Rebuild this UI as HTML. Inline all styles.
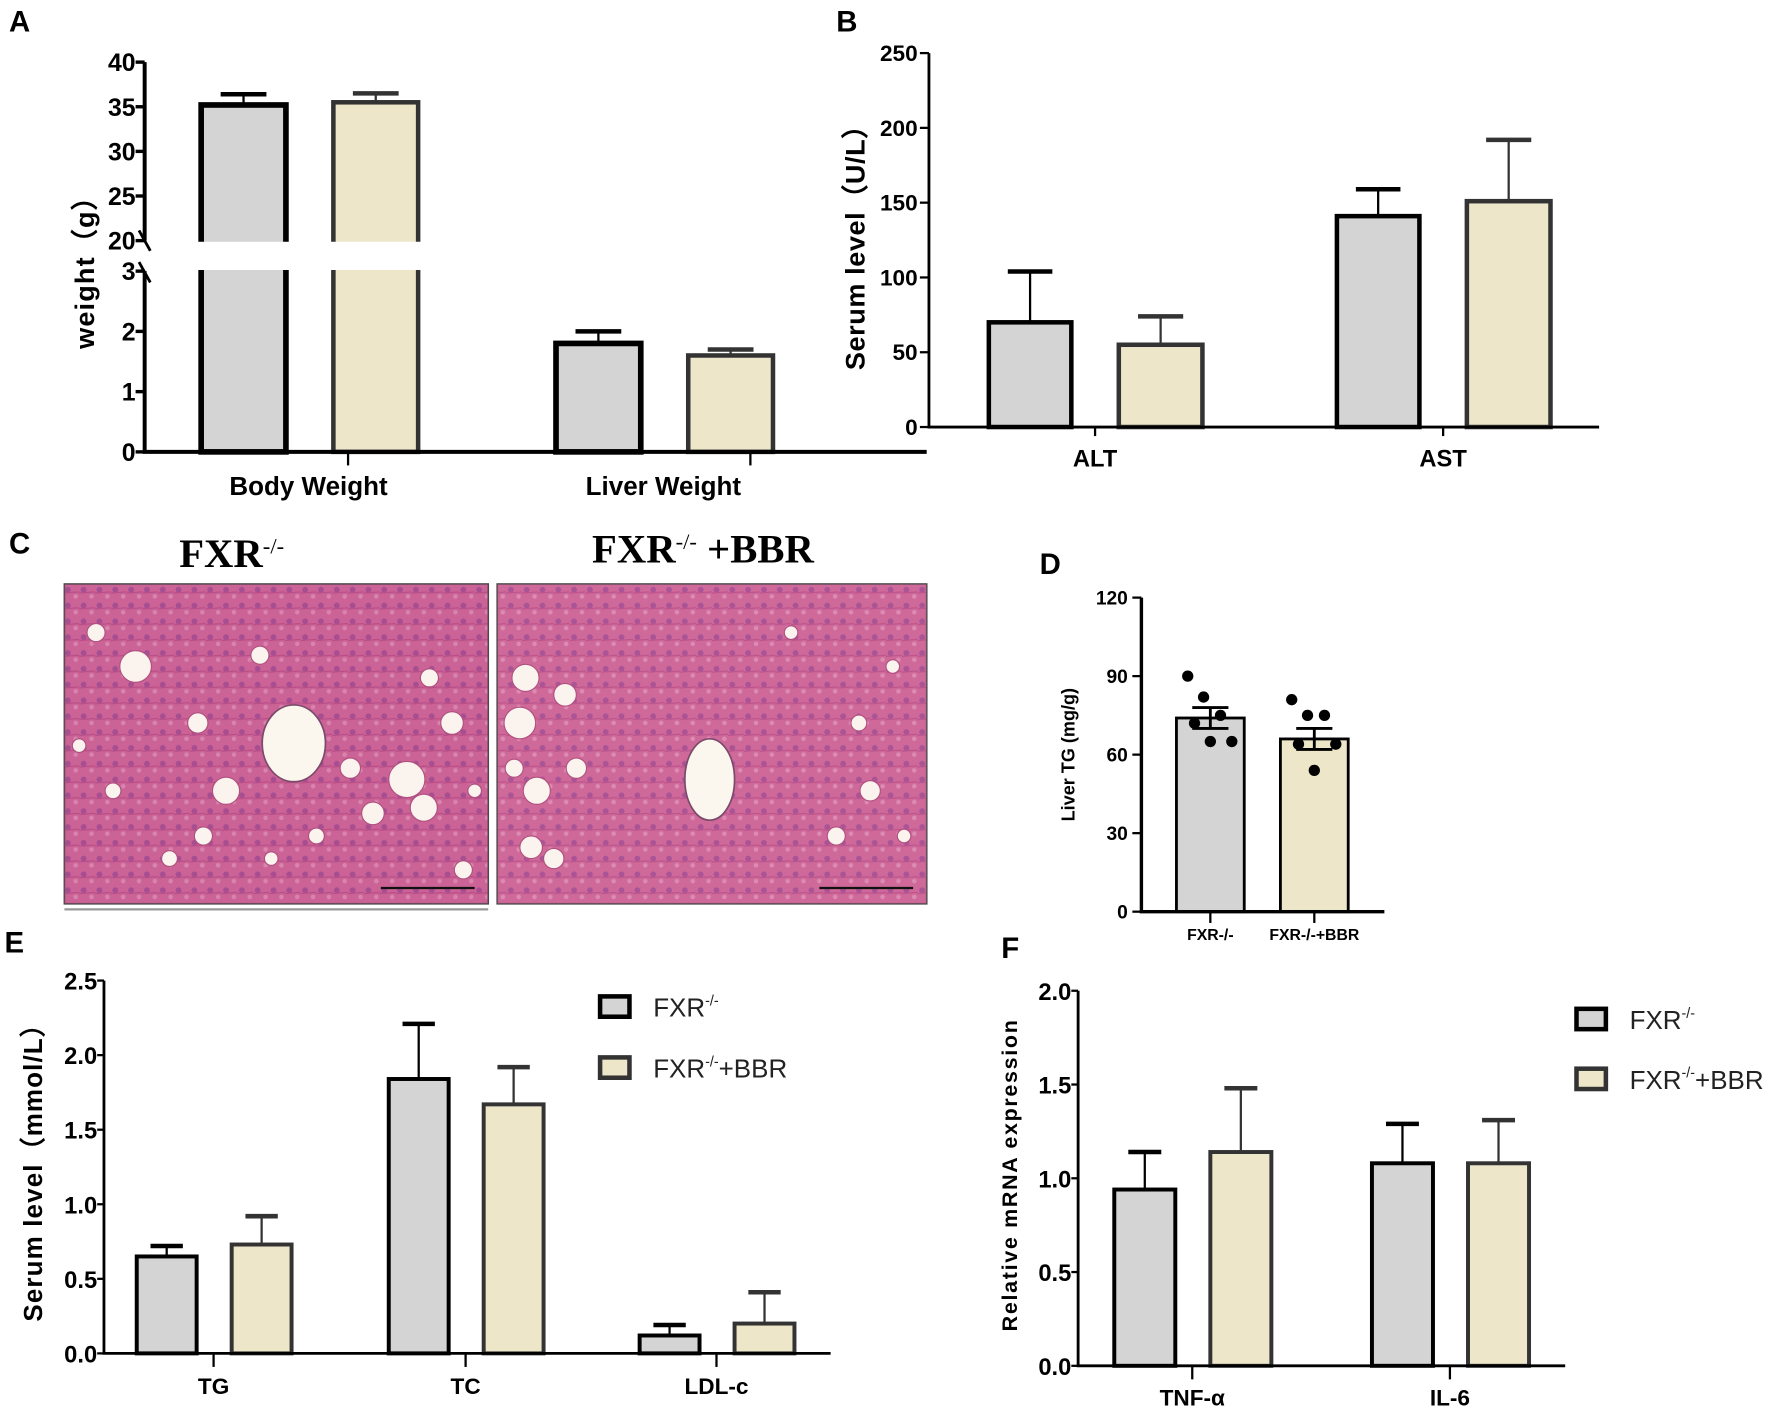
<!DOCTYPE html>
<html><head><meta charset="utf-8"><style>
html,body{margin:0;padding:0;background:#fff}
svg{display:block}
text{font-family:"Liberation Sans",Arial,sans-serif}
text.serif{font-family:"Liberation Serif","Times New Roman",serif}
</style></head><body>
<svg id="fig" xmlns="http://www.w3.org/2000/svg" width="1772" height="1411" viewBox="0 0 1568 1249" preserveAspectRatio="none">
<defs>
<pattern id="cells" width="14" height="14" patternUnits="userSpaceOnUse">
<rect width="14" height="14" fill="#cf6a9a"/>
<circle cx="4" cy="4" r="2.6" fill="#7e3a8e" opacity="0.75"/>
<circle cx="11" cy="10" r="2" fill="#eab0cb" opacity="0.8"/>
<path d="M0 7 L14 6" stroke="#b04580" stroke-width="1"/>
</pattern>
</defs>
<g id="root"></g>
</svg>
<script>
const NS="http://www.w3.org/2000/svg";
const root=document.getElementById('root');
function el(tag,attrs,parent,txt){const e=document.createElementNS(NS,tag);for(const k in attrs)e.setAttribute(k,attrs[k]);if(txt!==undefined)e.textContent=txt;(parent||root).appendChild(e);return e;}

// ===== DATA =====
const aCategories=["Body Weight","Liver Weight"];
const aFxr=[35.2,1.8];
const aFxrErr=[36.4,2.0];
const aBbr=[35.5,1.6];
const aBbrErr=[36.5,1.7];
const aTicksUpper=[20,25,30,35,40];
const aTicksLower=[0,1,2,3];

const bCategories=["ALT","AST"];
const bFxr=[70,141];
const bFxrErr=[104,159];
const bBbr=[55,151];
const bBbrErr=[74,192];
const bTicks=[0,50,100,150,200,250];

const dCategories=["FXR-/-","FXR-/-+BBR"];
const dMeans=[74,66];
const dSem=[4,4];
const dPointsFxr=[90,82,75,72,65,65];
const dPointsBbr=[81,75,75,64,64,54];
const dTicks=[0,30,60,90,120];

const eCategories=["TG","TC","LDL-c"];
const eFxr=[0.65,1.84,0.12];
const eFxrErr=[0.72,2.21,0.19];
const eBbr=[0.73,1.67,0.20];
const eBbrErr=[0.92,1.92,0.41];
const eTicks=[0,0.5,1.0,1.5,2.0,2.5];

const fCategories=["TNF-α","IL-6"];
const fFxr=[0.94,1.08];
const fFxrErr=[1.14,1.29];
const fBbr=[1.14,1.08];
const fBbrErr=[1.48,1.31];
const fTicks=[0,0.5,1.0,1.5,2.0];

const GRAY="#d4d4d4", BEIGE="#ede6c9";

function label(t,x,y){const e=el('text',{x:x,y:y,'font-size':26,'font-weight':'bold'},root,t);}

function bar(g,x,w,yTop,yBase,yErr,fill,stroke,sw,name){
  const r=el('rect',{x:x,y:yTop,width:w,height:yBase-yTop,fill:fill,stroke:stroke,'stroke-width':sw},g);
  
  const l=el('line',{x1:x+w/2,x2:x+w/2,y1:yTop,y2:yErr,stroke:stroke,'stroke-width':2},g);
  
  const c=el('line',{x1:x+w/2-w*0.27,x2:x+w/2+w*0.27,y1:yErr,y2:yErr,stroke:stroke,'stroke-width':4},g);
  
}
function ytitle(g,t,x,y,fs,name,ls){const e=el('text',{x:x,y:y,'font-size':fs,'font-weight':'bold','text-anchor':'middle',transform:`rotate(-90 ${x} ${y})`,'letter-spacing':ls||0},g,t);}

// ===== Panel A =====
label('A',8,28);
(function(){
  const g=el('g',{});
  const x0=128,x1=820;
  const yU=v=>213-(v-20)*(213-55)/20;
  const yL=v=>400-v*(400-240)/3;
  const sy=v=>v>=20?yU(v):yL(v);
  const gc=[274,588];
  const tickX=[308,664];
  aCategories.forEach((c,i)=>{
    bar(g,gc[i]-96,75,sy(aFxr[i]),400,sy(aFxrErr[i]),GRAY,'#000',5,'bar-a-fxr-'+i);
    bar(g,gc[i]+21,75,sy(aBbr[i]),400,sy(aBbrErr[i]),BEIGE,'#333',4,'bar-a-bbr-'+i);
    const t=el('text',{x:gc[i]-1,y:438,'font-size':23,'font-weight':'bold','text-anchor':'middle'},g,c);
    const tk=el('line',{x1:tickX[i],x2:tickX[i],y1:400,y2:412,stroke:'#000','stroke-width':2},g);
  });
  el('rect',{x:131,y:214,width:560,height:25,fill:'#fff'},g);
  const ax=el('path',{d:`M${x0} 55 V213 M${x0} 240 V400 H${x1}`,stroke:'#000','stroke-width':3.5,fill:'none'},g);
  el('path',{d:`M${x0-5} 204 L${x0+5} 222 M${x0-5} 232 L${x0+5} 250`,stroke:'#000','stroke-width':2.5},g);
  aTicksUpper.forEach(v=>{el('line',{x1:x0-8,x2:x0,y1:yU(v),y2:yU(v),stroke:'#000','stroke-width':3},g);const t=el('text',{x:x0-8,y:yU(v)+8,'font-size':22,'font-weight':'bold','text-anchor':'end'},g,v);});
  aTicksLower.forEach(v=>{el('line',{x1:x0-8,x2:x0,y1:yL(v),y2:yL(v),stroke:'#000','stroke-width':3},g);const t=el('text',{x:x0-8,y:yL(v)+8,'font-size':22,'font-weight':'bold','text-anchor':'end'},g,v);});
  ytitle(g,'weight（g）',83,235,24,'y-axis-title-a',1);
})();

// ===== Panel B =====
label('B',740,28);
(function(){
  const g=el('g',{});
  const x0=822,x1=1415,y0=378,yt=47;
  const sy=v=>y0-v*(y0-yt)/250;
  const cx=[969,1277];
  bCategories.forEach((c,i)=>{
    bar(g,cx[i]-94,73,sy(bFxr[i]),y0,sy(bFxrErr[i]),GRAY,'#000',4,'bar-b-fxr-'+i);
    bar(g,cx[i]+21,74,sy(bBbr[i]),y0,sy(bBbrErr[i]),BEIGE,'#333',4,'bar-b-bbr-'+i);
    const t=el('text',{x:cx[i],y:413,'font-size':21,'font-weight':'bold','text-anchor':'middle'},g,c);
    el('line',{x1:cx[i],x2:cx[i],y1:y0,y2:y0+8,stroke:'#000','stroke-width':2},g);
  });
  const ax=el('path',{d:`M${x0} ${yt} V${y0} H${x1}`,stroke:'#000','stroke-width':2.5,fill:'none'},g);
  bTicks.forEach(v=>{el('line',{x1:x0-8,x2:x0,y1:sy(v),y2:sy(v),stroke:'#000','stroke-width':2},g);const t=el('text',{x:x0-10,y:sy(v)+7,'font-size':20,'font-weight':'bold','text-anchor':'end'},g,v);});
  ytitle(g,'Serum level（U/L）',765,213,24,'y-axis-title-b',0.5);
})();

// ===== Panel C (histology) =====
label('C',8,490);
(function(){
  const g=el('g',{});
  const t1=el('text',{x:205,y:502,'font-size':36,'font-weight':'bold','text-anchor':'middle','class':'serif'},g);
  t1.innerHTML='FXR<tspan dy="-12" font-size="20" font-weight="normal">-/-</tspan>';
  const t2=el('text',{x:622,y:498,'font-size':36,'font-weight':'bold','text-anchor':'middle','class':'serif'},g);
  t2.innerHTML='FXR<tspan dy="-12" font-size="20" font-weight="normal">-/-</tspan><tspan dy="12"> +BBR</tspan>';
  const imgs=[[57,517,375,283,260,658,28,34,'#c55a92'],[440,517,380,283,628,690,22,36,'#cf6a9c']];
  const blobs1=[[120,590,14],[175,640,9],[200,700,12],[360,690,16],[375,715,12],[330,720,10],[310,680,9],[85,560,8],[400,640,10],[280,740,7],[150,760,7],[410,770,8],[230,580,8],[180,740,8],[380,600,8],[70,660,6],[100,700,7],[420,700,6],[240,760,6]];
  const blobs2=[[465,600,12],[460,640,14],[475,700,12],[470,750,10],[500,615,10],[510,680,9],[770,700,9],[760,640,7],[740,740,8],[700,560,6],[790,590,6],[455,680,8],[490,760,9],[800,740,6]];
  imgs.forEach((im,k)=>{
    const r=el('rect',{x:im[0],y:im[1],width:im[2],height:im[3],fill:'url(#cells)',stroke:'#444','stroke-width':1.5},g);
    el('rect',{x:im[0],y:im[1],width:im[2],height:im[3],fill:im[8],opacity:0.4},g);
    (k?blobs2:blobs1).forEach(b=>el('circle',{cx:b[0],cy:b[1],r:b[2],fill:'#fbf3ee',stroke:'#b0507e','stroke-width':1},g));
    el('ellipse',{cx:im[4],cy:im[5],rx:im[6],ry:im[7],fill:'#fbf6ee',stroke:'#7a4a6a','stroke-width':1.5},g);
    el('line',{x1:im[0]+im[2]-95,x2:im[0]+im[2]-12,y1:im[1]+im[3]-14,y2:im[1]+im[3]-14,stroke:'#111','stroke-width':2},g);
  });
  el('line',{x1:57,x2:432,y1:805,y2:805,stroke:'#999','stroke-width':2},g);
})();

// ===== Panel D =====
label('D',920,508);
(function(){
  const g=el('g',{});
  const x0=1010,x1=1225,y0=807,yt=529;
  const sy=v=>y0-v*(y0-yt)/120;
  const cx=[1071,1163];
  const pts=[dPointsFxr,dPointsBbr];
  const off=[-20,-6,9,-14,19,0];
  dCategories.forEach((c,i)=>{
    const r=el('rect',{x:cx[i]-30,y:sy(dMeans[i]),width:60,height:y0-sy(dMeans[i]),fill:i?BEIGE:GRAY,stroke:'#000','stroke-width':2.5},g);
    el('path',{d:`M${cx[i]} ${sy(dMeans[i]-dSem[i])} V${sy(dMeans[i]+dSem[i])} M${cx[i]-16} ${sy(dMeans[i]+dSem[i])} H${cx[i]+16} M${cx[i]-16} ${sy(dMeans[i]-dSem[i])} H${cx[i]+16}`,stroke:'#000','stroke-width':2.5},g);
    pts[i].forEach((v,j)=>{const p=el('circle',{cx:cx[i]+off[j],cy:sy(v),r:5,fill:'#000'},g);});
    const t=el('text',{x:cx[i],y:832,'font-size':14,'font-weight':'bold','text-anchor':'middle'},g,c);
    el('line',{x1:cx[i],x2:cx[i],y1:y0,y2:y0+10,stroke:'#000','stroke-width':2},g);
  });
  const ax=el('path',{d:`M${x0} ${yt} V${y0} H${x1}`,stroke:'#000','stroke-width':3,fill:'none'},g);
  dTicks.forEach(v=>{el('line',{x1:x0-8,x2:x0,y1:sy(v),y2:sy(v),stroke:'#000','stroke-width':2},g);const t=el('text',{x:x0-12,y:sy(v)+6,'font-size':17,'font-weight':'bold','text-anchor':'end'},g,v);});
  ytitle(g,'Liver TG (mg/g)',951,668,16,'y-axis-title-d',0);
})();

function legend(g,x,y1,y2,fs,name){
  [[y1,GRAY,'#000','',name+'-fxr'],[y2,BEIGE,'#333','+BBR',name+'-bbr']].forEach(L=>{
    const r=el('rect',{x:x,y:L[0]-9,width:26,height:18,fill:L[1],stroke:L[2],'stroke-width':4},g);
    const t=el('text',{x:x+47,y:L[0]+9,'font-size':fs,fill:'#222'},g);
    t.innerHTML='FXR<tspan dy="-10" font-size="'+(fs*0.55)+'">-/-</tspan><tspan dy="10">'+L[3]+'</tspan>';
  });
}

// ===== Panel E =====
label('E',4,843);
(function(){
  const g=el('g',{});
  const x0=92,x1=735,y0=1198,yt=868;
  const sy=v=>y0-v*(y0-yt)/2.5;
  const cx=[189,412,634];
  eCategories.forEach((c,i)=>{
    bar(g,cx[i]-68,53,sy(eFxr[i]),y0,sy(eFxrErr[i]),GRAY,'#000',3.5,'bar-e-fxr-'+i);
    bar(g,cx[i]+16,53,sy(eBbr[i]),y0,sy(eBbrErr[i]),BEIGE,'#333',3.5,'bar-e-bbr-'+i);
    const t=el('text',{x:cx[i],y:1234,'font-size':20,'font-weight':'bold','text-anchor':'middle'},g,c);
    el('line',{x1:cx[i],x2:cx[i],y1:y0,y2:y0+12,stroke:'#000','stroke-width':2},g);
  });
  const ax=el('path',{d:`M${x0} ${yt} V${y0} H${x1}`,stroke:'#000','stroke-width':2.5,fill:'none'},g);
  eTicks.forEach(v=>{el('line',{x1:x0-6,x2:x0,y1:sy(v),y2:sy(v),stroke:'#000','stroke-width':2},g);const t=el('text',{x:x0-6,y:sy(v)+8,'font-size':21,'text-anchor':'end','font-weight':'bold'},g,v.toFixed(1));});
  ytitle(g,'Serum level（mmol/L）',37,1032,23,'y-axis-title-e',1);
  legend(g,531,891,945,23,'legend-e');
})();

// ===== Panel F =====
label('F',886,848);
(function(){
  const g=el('g',{});
  const x0=954,x1=1385,y0=1209,yt=877;
  const sy=v=>y0-v*(y0-yt)/2.0;
  const cx=[1055,1283];
  fCategories.forEach((c,i)=>{
    bar(g,cx[i]-69,54,sy(fFxr[i]),y0,sy(fFxrErr[i]),GRAY,'#000',3.5,'bar-f-fxr-'+i);
    bar(g,cx[i]+16,54,sy(fBbr[i]),y0,sy(fBbrErr[i]),BEIGE,'#333',3.5,'bar-f-bbr-'+i);
    const t=el('text',{x:cx[i],y:1244,'font-size':20,'font-weight':'bold','text-anchor':'middle'},g,c);
    el('line',{x1:cx[i],x2:cx[i],y1:y0,y2:y0+12,stroke:'#000','stroke-width':2},g);
  });
  const ax=el('path',{d:`M${x0} ${yt} V${y0} H${x1}`,stroke:'#000','stroke-width':2.5,fill:'none'},g);
  fTicks.forEach(v=>{el('line',{x1:x0-6,x2:x0,y1:sy(v),y2:sy(v),stroke:'#000','stroke-width':2},g);const t=el('text',{x:x0-6,y:sy(v)+8,'font-size':21,'text-anchor':'end','font-weight':'bold'},g,v.toFixed(1));});
  ytitle(g,'Relative mRNA expression',900,1040,19,'y-axis-title-f',1.5);
  legend(g,1395,902,955,23,'legend-f');
})();
</script>
</body></html>
